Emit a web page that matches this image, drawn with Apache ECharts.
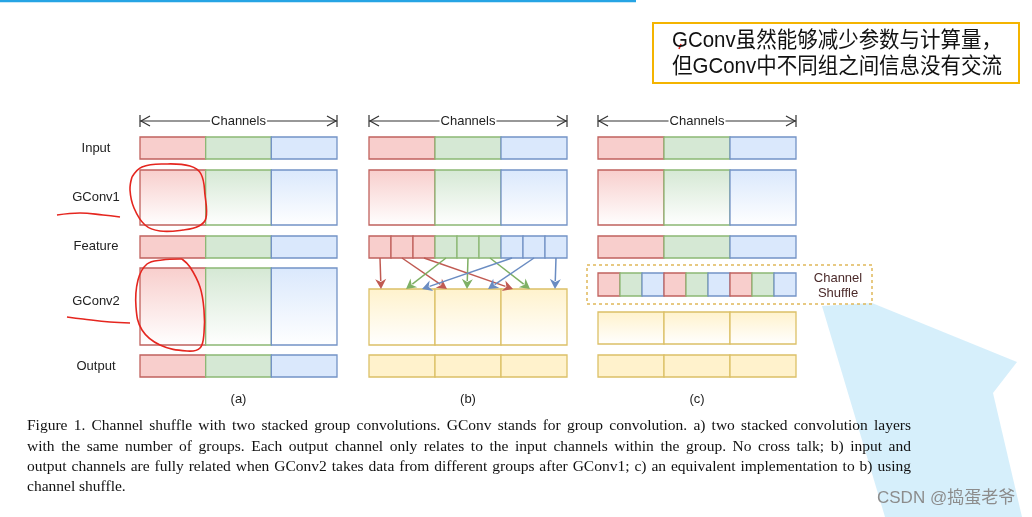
<!DOCTYPE html>
<html><head><meta charset="utf-8">
<script src="https://cdn.jsdelivr.net/npm/echarts@6/dist/echarts.min.js"></script>
<style>html,body{margin:0;padding:0;background:#fff}#c{width:1032px;height:517px}</style>
</head><body><div id="c"></div>
<script>
// ================= DATA =================
const rowLabels = ['Input', 'GConv1', 'Feature', 'GConv2', 'Output'];
const rowLabelY = [148, 197, 246, 301, 366];
const panelNames = ['(a)', '(b)', '(c)'];
const panelLeft = [140, 369, 598];
const panelRight = [337, 567, 796];
const channelsY = 121;
const panelNameY = 399;
// vertical bands [top, bottom] in the diagram's own units
const inputBand = [137, 159];
const gconv1Band = [170, 225];
const featureBand = [236, 258];
const gconv2BandA = [268, 345];
const gconv2BandB = [289, 345];
const shuffleBand = [273, 296];
const gconv2BandC = [312, 344];
const outputBand = [355, 377];
const groups = ['red', 'green', 'blue'];
const featureSplitB = ['red','red','red','green','green','green','blue','blue','blue'];
const shuffleOrder = ['red','green','blue','red','green','blue','red','green','blue'];
const arrowTargetX = [381, 447, 513, 406, 467, 530, 422, 488, 555];
const shuffleBox = [587, 265, 872, 304];
const shuffleLabel = ['Channel', 'Shuffle'];
const shuffleLabelX = 838;
const shuffleLabelY = [278, 293];
const noteBox = [653, 23, 1019, 83];
const noteLines = ['GConv虽然能够减少参数与计算量，', '但GConv中不同组之间信息没有交流'];
const noteLineY = [41, 67];
const captionLines = [
  'Figure 1. Channel shuffle with two stacked group convolutions. GConv stands for group convolution. a) two stacked convolution layers',
  'with the same number of groups. Each output channel only relates to the input channels within the group. No cross talk; b) input and',
  'output channels are fully related when GConv2 takes data from different groups after GConv1; c) an equivalent implementation to b) using',
  'channel shuffle.'
];
const captionLineY = [426, 447, 467, 487];
const captionLeft = 27, captionRight = 911;
const watermark = 'CSDN @捣蛋老爷';
const watermarkPos = [877, 498];
const topRule = [0, 1, 636];
const bluePatch = [[822,306],[872,303],[1017,362],[993,393],[1022,517],[885,517]];
const redLoop1 = [[132,177],[142,167],[165,164],[190,166],[201,174],[205,195],[206,218],[199,226],[183,230],[160,231],[145,225],[134,208],[130,190],[132,177]];
const redLoop2 = [[182,259],[162,260],[147,264],[138,280],[136,307],[142,330],[160,345],[187,351],[200,348],[204,333],[204,310],[200,287],[190,267],[182,259]];
const redLine1 = [[57,215],[80,213],[103,215],[120,217]];
const redLine2 = [[67,317],[83,319],[110,322],[130,323]];
const redTick = [[681,44],[679,49]];

// ================= STYLE =================
const palette = {
  red:    {fill:'#f8cecc', stroke:'#c0625d', arrow:'#c05a52'},
  green:  {fill:'#d5e8d4', stroke:'#8cb874', arrow:'#7fb064'},
  blue:   {fill:'#dae8fc', stroke:'#7393c6', arrow:'#6a8cc2'},
  yellow: {fill:'#fff2cc', stroke:'#dcc067', arrow:'#d6b656'}
};
const W = 1032, H = 517;
const sansFont = '"Liberation Sans", Arial, sans-serif';

// ================= BUILD =================
const cells = [];
function addRow(p, band, keys, grad) {
  const n = keys.length, w = (panelRight[p] - panelLeft[p]) / n;
  keys.forEach((k, i) => cells.push({x0: panelLeft[p] + i * w, x1: panelLeft[p] + (i + 1) * w, y0: band[0], y1: band[1], key: k, grad: grad}));
}
// (a)
addRow(0, inputBand, groups, false);
addRow(0, gconv1Band, groups, true);
addRow(0, featureBand, groups, false);
addRow(0, gconv2BandA, groups, true);
addRow(0, outputBand, groups, false);
// (b)
addRow(1, inputBand, groups, false);
addRow(1, gconv1Band, groups, true);
addRow(1, featureBand, featureSplitB, false);
addRow(1, gconv2BandB, ['yellow','yellow','yellow'], true);
addRow(1, outputBand, ['yellow','yellow','yellow'], false);
// (c)
addRow(2, inputBand, groups, false);
addRow(2, gconv1Band, groups, true);
addRow(2, featureBand, groups, false);
addRow(2, shuffleBand, shuffleOrder, false);
addRow(2, gconv2BandC, ['yellow','yellow','yellow'], true);
addRow(2, outputBand, ['yellow','yellow','yellow'], false);

const arrows = featureSplitB.map((k, i) => {
  const w = (panelRight[1] - panelLeft[1]) / featureSplitB.length;
  return {x0: panelLeft[1] + (i + 0.5) * w, y0: featureBand[1], x1: arrowTargetX[i], y1: gconv2BandB[0], key: k};
});

// text items
const texts = [];
rowLabels.forEach((t, i) => texts.push({x: 96, y: rowLabelY[i], text: t, font: '13px ' + sansFont, fill: '#222', align: 'center'}));
panelNames.forEach((t, i) => texts.push({x: (panelLeft[i] + panelRight[i]) / 2, y: panelNameY, text: t, font: '13px ' + sansFont, fill: '#222', align: 'center'}));
panelNames.forEach((t, i) => texts.push({x: (panelLeft[i] + panelRight[i]) / 2, y: channelsY, text: 'Channels', font: '13px ' + sansFont, fill: '#222', align: 'center', bg: '#fff'}));
shuffleLabel.forEach((t, i) => texts.push({x: shuffleLabelX, y: shuffleLabelY[i], text: t, font: '13px ' + sansFont, fill: '#4b2a2a', align: 'center'}));
noteLines.forEach((t, i) => texts.push({x: noteBox[0] + 19, y: noteLineY[i], text: t, font: '22px "Liberation Sans", "Noto Sans CJK SC", sans-serif', fill: '#111', align: 'left', fitWidth: 330}));
texts.push({x: watermarkPos[0], y: watermarkPos[1], text: watermark, font: '17px "Liberation Sans", "Noto Sans CJK SC", sans-serif', fill: '#8c8c8c', align: 'left'});
// justified caption
const capFont = '15.5px "Liberation Serif", "Times New Roman", serif';
const mctx = document.createElement('canvas').getContext('2d');
mctx.font = capFont;
captionLines.forEach((line, li) => {
  const words = line.split(' ');
  const widths = words.map(w => mctx.measureText(w).width);
  const last = li === captionLines.length - 1;
  const total = widths.reduce((a, b) => a + b, 0);
  const gap = last ? mctx.measureText(' ').width : (captionRight - captionLeft - total) / (words.length - 1);
  let x = captionLeft;
  words.forEach((w, wi) => {
    texts.push({x: x, y: captionLineY[li], text: w, font: capFont, fill: '#111', align: 'left'});
    x += widths[wi] + gap;
  });
});

// ================= CHART =================
const chart = echarts.init(document.getElementById('c'));
function gradFill(c) {
  return {type: 'linear', x: 0, y: 0, x2: 0, y2: 1, colorStops: [{offset: 0, color: c}, {offset: 1, color: '#ffffff'}]};
}
function pts(arr, api) { return arr.map(p => api.coord(p)); }

chart.setOption({
  animation: false,
  backgroundColor: '#ffffff',
  grid: {left: 0, right: 0, top: 0, bottom: 0},
  xAxis: {type: 'value', min: 0, max: W, show: false},
  yAxis: {type: 'value', min: 0, max: H, inverse: true, show: false},
  series: [
    { // background decorations
      type: 'custom', clip: false, silent: true,
      data: [[0, 0]],
      renderItem: (params, api) => {
        const rule0 = api.coord([topRule[0], topRule[1]]), rule1 = api.coord([topRule[2], topRule[1]]);
        const nb0 = api.coord([noteBox[0], noteBox[1]]), nb1 = api.coord([noteBox[2], noteBox[3]]);
        return {type: 'group', children: [
          {type: 'polygon', shape: {points: pts(bluePatch, api)}, style: {fill: 'rgba(200,233,250,0.75)'}},
          {type: 'line', shape: {x1: rule0[0], y1: rule0[1], x2: rule1[0], y2: rule1[1]}, style: {stroke: '#26a4e4', lineWidth: 2.5}},
          {type: 'rect', shape: {x: nb0[0], y: nb0[1], width: nb1[0] - nb0[0], height: nb1[1] - nb0[1]}, style: {fill: '#fff', stroke: '#f4b400', lineWidth: 2}}
        ]};
      }
    },
    { // cells
      type: 'custom', clip: false, silent: true,
      data: cells.map(c => [c.x0, c.y0, c.x1, c.y1]),
      renderItem: (params, api) => {
        const c = cells[params.dataIndex];
        const p0 = api.coord([c.x0, c.y0]), p1 = api.coord([c.x1, c.y1]);
        const col = palette[c.key];
        return {type: 'rect', shape: {x: p0[0], y: p0[1], width: p1[0] - p0[0], height: p1[1] - p0[1]},
          style: {fill: c.grad ? gradFill(col.fill) : col.fill, stroke: col.stroke, lineWidth: 1.3}};
      }
    },
    { // shuffle dashed box + channel dimension arrows
      type: 'custom', clip: false, silent: true,
      data: panelLeft.map((x, i) => [x, channelsY, panelRight[i], channelsY]),
      renderItem: (params, api) => {
        const i = params.dataIndex;
        const a = api.coord([panelLeft[i], channelsY]), b = api.coord([panelRight[i], channelsY]);
        const s = '#333', hl = 10, hw = 5;
        const ch = [
          {type: 'line', shape: {x1: a[0], y1: a[1], x2: b[0], y2: b[1]}, style: {stroke: s, lineWidth: 1.2}},
          {type: 'line', shape: {x1: a[0], y1: a[1] - 6, x2: a[0], y2: a[1] + 6}, style: {stroke: s, lineWidth: 1.2}},
          {type: 'line', shape: {x1: b[0], y1: b[1] - 6, x2: b[0], y2: b[1] + 6}, style: {stroke: s, lineWidth: 1.2}},
          {type: 'polyline', shape: {points: [[a[0] + hl, a[1] - hw], [a[0] + 1, a[1]], [a[0] + hl, a[1] + hw]]}, style: {stroke: s, fill: null, lineWidth: 1.2}},
          {type: 'polyline', shape: {points: [[b[0] - hl, b[1] - hw], [b[0] - 1, b[1]], [b[0] - hl, b[1] + hw]]}, style: {stroke: s, fill: null, lineWidth: 1.2}}
        ];
        if (i === 2) {
          const q0 = api.coord([shuffleBox[0], shuffleBox[1]]), q1 = api.coord([shuffleBox[2], shuffleBox[3]]);
          ch.push({type: 'rect', shape: {x: q0[0], y: q0[1], width: q1[0] - q0[0], height: q1[1] - q0[1]},
            style: {fill: null, stroke: '#e0b85a', lineWidth: 1.5, lineDash: [3, 3]}});
        }
        return {type: 'group', children: ch};
      }
    },
    { // arrows in (b)
      type: 'custom', clip: false, silent: true,
      data: arrows.map(a => [a.x0, a.y0, a.x1, a.y1]),
      renderItem: (params, api) => {
        const a = arrows[params.dataIndex];
        const p0 = api.coord([a.x0, a.y0]), p1 = api.coord([a.x1, a.y1]);
        const dx = p1[0] - p0[0], dy = p1[1] - p0[1], len = Math.hypot(dx, dy);
        const ux = dx / len, uy = dy / len, hl = 10, hw = 5.5;
        const bx = p1[0] - ux * hl, by = p1[1] - uy * hl;
        const col = palette[a.key].arrow;
        return {type: 'group', children: [
          {type: 'line', shape: {x1: p0[0], y1: p0[1], x2: bx + ux * 2, y2: by + uy * 2}, style: {stroke: col, lineWidth: 1.5}},
          {type: 'polygon', shape: {points: [[p1[0], p1[1]], [bx - uy * hw, by + ux * hw], [bx + ux * 3, by + uy * 3], [bx + uy * hw, by - ux * hw]]}, style: {fill: col}}
        ]};
      }
    },
    { // red annotations
      type: 'custom', clip: false, silent: true,
      data: [redLoop1, redLoop2, redLine1, redLine2, redTick].map(l => l[0]),
      renderItem: (params, api) => {
        const l = [redLoop1, redLoop2, redLine1, redLine2, redTick][params.dataIndex];
        return {type: 'polyline', shape: {points: pts(l, api), smooth: 0.4}, style: {stroke: '#e5261f', fill: null, lineWidth: 1.6}};
      }
    },
    { // texts
      type: 'custom', clip: false, silent: true,
      data: texts.map(t => [t.x, t.y]),
      renderItem: (params, api) => {
        const t = texts[params.dataIndex];
        const p = api.coord([t.x, t.y]);
        const st = {text: t.text, x: 0, y: 0, font: t.font, fill: t.fill, align: t.align, verticalAlign: 'middle'};
        if (t.bg) { st.backgroundColor = t.bg; st.padding = [0, 1]; }
        let sx = 1;
        if (t.fitWidth) {
          mctx.font = t.font;
          const w = mctx.measureText(t.text).width;
          sx = Math.min(1, t.fitWidth / w);
        }
        return {type: 'text', x: p[0], y: p[1], scaleX: sx, style: st};
      }
    }
  ]
});
</script></body></html>
